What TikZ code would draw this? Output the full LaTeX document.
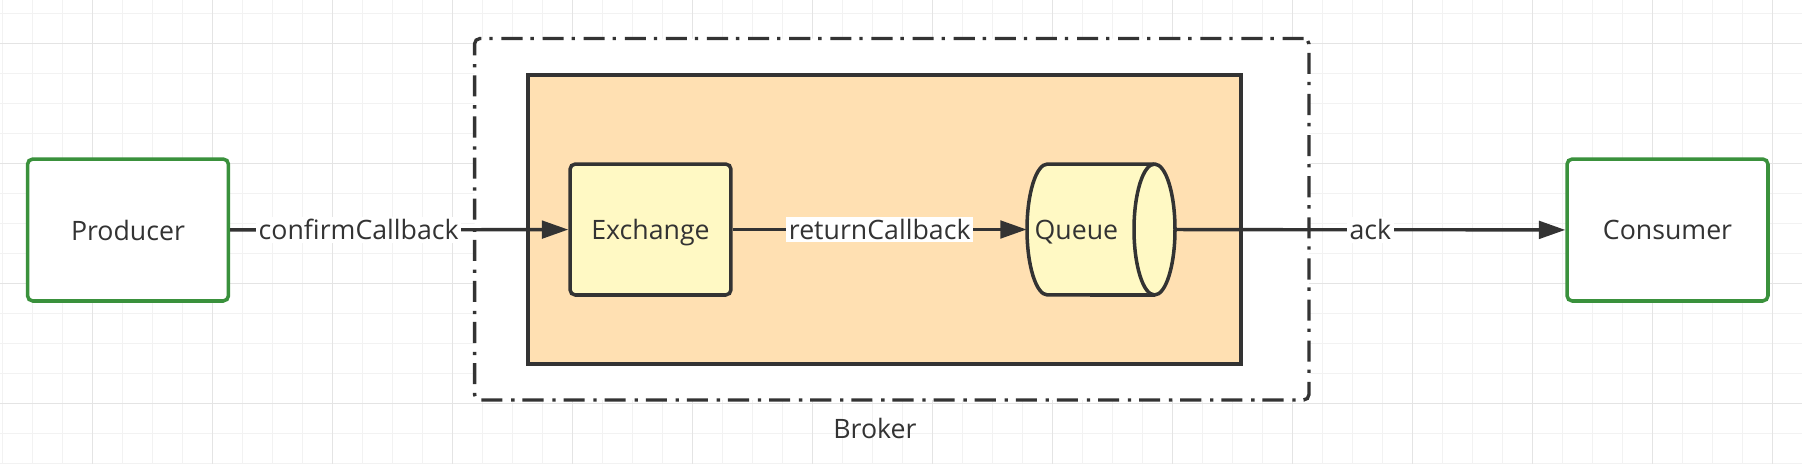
\documentclass[tikz,border=0pt]{standalone}
\usepackage{fontspec}
\setmainfont{Open Sans}
\usepackage{tikz}
\usetikzlibrary{arrows.meta}

\definecolor{inkgray}{HTML}{333333}
\definecolor{actorgreen}{HTML}{3A913C}
\definecolor{coreorange}{HTML}{FFE0B2}
\definecolor{partyellow}{HTML}{FFF9C4}
\definecolor{gridminor}{HTML}{F2F2F2}
\definecolor{gridmajor}{HTML}{E4E4E4}

\begin{document}
\begin{tikzpicture}[
    x=0.02cm, y=-0.02cm,
    every node/.style={font=\fontsize{15.2}{18}\selectfont, text=inkgray},
    actor/.style={rectangle, rounded corners=3pt, draw=actorgreen, fill=white, line width=2pt, minimum width=4.02cm, minimum height=2.84cm},
    part/.style={rectangle, rounded corners=3pt, draw=inkgray, fill=partyellow, line width=2pt, minimum width=3.22cm, minimum height=2.62cm, text depth=0pt},
    store/.style={rectangle, minimum width=2.96cm, minimum height=2.62cm, inner sep=0pt, text depth=0pt},
    storeline/.style={draw=inkgray, fill=partyellow, line width=2pt},
    flow/.style={draw=inkgray, line width=1.9pt, -{Triangle[length=15pt, width=10pt]}},
    tag/.style={fill=white, inner sep=1.5pt}]

% Background grid
\fill[white] (0,0) rectangle (1802,464);
\useasboundingbox (0,0) rectangle (1802,464);
\foreach \i in {0,...,59} {
    \draw[gridminor, line width=0.6pt] (2.6+30*\i,0) -- (2.6+30*\i,464);
}
\foreach \i in {0,...,15} {
    \draw[gridminor, line width=0.6pt] (0,13.3+30*\i) -- (1802,13.3+30*\i);
}
\foreach \i in {0,...,14} {
    \draw[gridmajor, line width=0.8pt] (92.6+120*\i,0) -- (92.6+120*\i,464);
}
\foreach \i in {0,...,3} {
    \draw[gridmajor, line width=0.8pt] (0,43.3+120*\i) -- (1802,43.3+120*\i);
}

% Containers
\node (broker) [draw=inkgray, fill=white, rounded corners=3pt, line width=1.9pt,
    dash pattern=on 12pt off 5pt on 1.9pt off 4.5pt,
    minimum width=16.69cm, minimum height=7.23cm] at (891.75,219.25) {};
\node (core) [draw=inkgray, fill=coreorange, line width=2pt,
    minimum width=14.26cm, minimum height=5.78cm] at (884.5,219.5) {};
\node (brokertag) at (875,428) {Broker};

% Nodes
\node[actor] (producer) at (128,230) {Producer};
\node[part] (exchange) at (650.5,229.5) {Exchange};
\node[store] (queue) at (1101,229.5) {};
\node[actor] (consumer) at (1667.5,230) {Consumer};

% Queue drawn as a lying cylinder
\filldraw[storeline] ([shift={(53.5,-65.5)}]queue.center) -- ([shift={(-53.5,-65.5)}]queue.center)
    arc[start angle=90, end angle=270, x radius=0.41cm, y radius=1.31cm]
    -- ([shift={(53.5,65.5)}]queue.center)
    arc[start angle=-90, end angle=90, x radius=0.41cm, y radius=1.31cm] -- cycle;
\draw[storeline, fill=none] ([shift={(53.5,-65.5)}]queue.center)
    arc[start angle=90, end angle=270, x radius=0.41cm, y radius=1.31cm];
\node[text depth=0pt] (queuetag) at ([xshift=-14]queue.center) {Queue};

% Arrows
\draw[flow] (producer) -- node[tag, pos=0.38] {confirmCallback} (exchange);
\draw[flow] (exchange) -- node[tag] {returnCallback} (queue);
\draw[flow] (queue) -- node[tag] {ack} (consumer);
\end{tikzpicture}
\end{document}
